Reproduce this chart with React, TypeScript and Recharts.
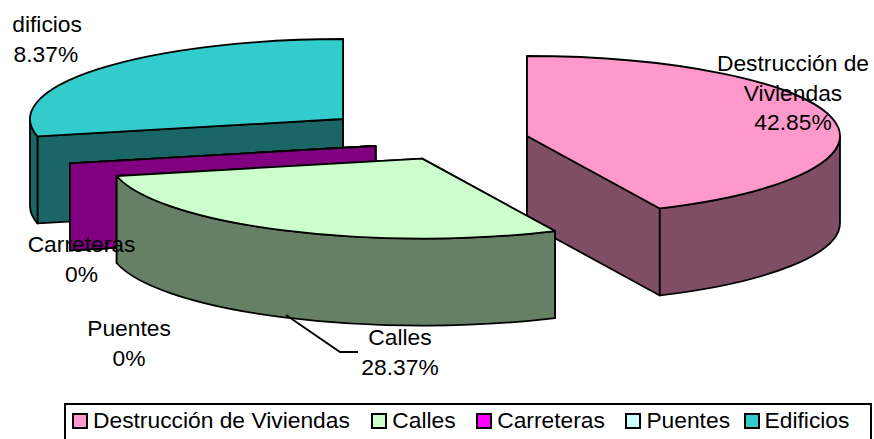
import { PieChart, Pie, Legend } from 'recharts';

const NAMES = ['Destrucción de Viviendas', 'Calles', 'Carreteras', 'Puentes', 'Edificios'];
const VALUES = [42.85, 28.37, 0, 0, 28.37];
const COLORS = ['#FF99CC', '#CCFFCC', '#FF00FF', '#CCFFFF', '#33CCCC'];
const SIDE_COLORS = ['#804D66', '#668066', '#800080', '#668080', '#1A6666'];

const data = NAMES.map((name, i) => ({ name, value: VALUES[i] }));

// Excel paints the slices back to front, not in legend order
const PAINT_ORDER = [4, 3, 2, 0, 1];

const FONT = '"Liberation Sans", Arial, sans-serif';
const FONT_SIZE = 22.8;

// the tilted pie
const CX = 454.8;
const CY = 140.4;
const RADIUS = 313;
const TILT = 80 / 313;
const DEPTH = 87;

// how far each slice is pulled out of the pie, px
const EXPLODE = [
  [72.2, -4.4],
  [-32.6, 18.2],
  [-79.3, 5.6],
  [-79.3, 5.6],
  [-111.8, -21.4],
];

// center x and first baseline of each data label
const LABELS = [
  { x: 793, y: 71, lines: ['Destrucción de', 'Viviendas'] },
  { x: 400, y: 345, lines: ['Calles'] },
  { x: 81.5, y: 252, lines: ['Carreteras'] },
  { x: 129, y: 336, lines: ['Puentes'] },
  { x: 39.5, y: 32, lines: ['Edificios'] },
];
const LINE_HEIGHT = 29.6;

// space after each legend entry, the reference is not even here
const LEGEND_GAPS = [21.5, 20.5, 20.5, 13.5, 0];

function Slice3D(props: any) {
  const { cx, cy, outerRadius, startAngle, endAngle, index } = props;
  const [dx, dy] = EXPLODE[index];
  const ax = cx + dx;
  const ay = cy + dy;
  const rx = outerRadius;
  const ry = outerRadius * TILT;
  const px = (deg: number) => ax + rx * Math.cos((deg * Math.PI) / 180);
  const py = (deg: number) => ay - ry * Math.sin((deg * Math.PI) / 180);
  const arc = (from: number, to: number, off = 0) => {
    const large = Math.abs(from - to) > 180 ? 1 : 0;
    const sweep = to < from ? 1 : 0;
    return `A${rx} ${ry} 0 ${large} ${sweep} ${px(to)} ${py(to) + off}`;
  };
  const wall = (deg: number) =>
    `M${ax} ${ay}L${px(deg)} ${py(deg)}L${px(deg)} ${py(deg) + DEPTH}L${ax} ${ay + DEPTH}Z`;

  // only the front half of the rim can be seen
  const rimFrom = Math.min(startAngle, 0);
  const rimTo = Math.max(endAngle, -180);
  const hasRim = rimFrom > rimTo;
  const common = { stroke: '#000', strokeWidth: 1.8, strokeLinejoin: 'round' as const };

  return (
    <g>
      <path d={wall(startAngle)} fill={SIDE_COLORS[index]} {...common} />
      <path d={wall(endAngle)} fill={SIDE_COLORS[index]} {...common} />
      {hasRim && (
        <path
          d={`M${px(rimFrom)} ${py(rimFrom)}${arc(rimFrom, rimTo)}L${px(rimTo)} ${py(rimTo) + DEPTH}${arc(rimTo, rimFrom, DEPTH)}Z`}
          fill={SIDE_COLORS[index]}
          {...common}
        />
      )}
      {startAngle !== endAngle && (
        <path
          d={`M${ax} ${ay}L${px(startAngle)} ${py(startAngle)}${arc(startAngle, endAngle)}Z`}
          fill={COLORS[index]}
          {...common}
        />
      )}
    </g>
  );
}

function renderLabel(props: any) {
  const { index, value } = props;
  const { x, y, lines } = LABELS[index];
  const rows = [...lines, `${value}%`];
  return (
    <g key={NAMES[index]} clipPath="url(#chart-area)">
      {NAMES[index] === 'Calles' && (
        <polyline points="286,315 340,352 358,352" fill="none" stroke="#000" strokeWidth={1.8} />
      )}
      <text x={x} y={y} textAnchor="middle" fontFamily={FONT} fontSize={FONT_SIZE} fill="#000">
        {rows.map((row, i) => (
          <tspan key={row} x={x} y={y + i * LINE_HEIGHT}>
            {row}
          </tspan>
        ))}
      </text>
    </g>
  );
}

function ChartLegend() {
  return (
    <div
      style={{
        display: 'flex',
        alignItems: 'flex-start',
        boxSizing: 'border-box',
        height: 60,
        padding: '2px 0 0 6px',
        border: '2px solid #000',
        background: '#fff',
        fontFamily: FONT,
        fontSize: FONT_SIZE,
        lineHeight: '26px',
        color: '#000',
        whiteSpace: 'nowrap',
      }}
    >
      {NAMES.map((name, i) => (
        <span key={name} style={{ display: 'flex', alignItems: 'center', height: 26, marginRight: LEGEND_GAPS[i] }}>
          <span
            style={{
              width: 16,
              height: 16,
              boxSizing: 'border-box',
              border: '2px solid #000',
              marginRight: 5,
              marginTop: 1,
              background: COLORS[i],
            }}
          />
          {name}
        </span>
      ))}
    </div>
  );
}

export default function App() {
  return (
    <div style={{ position: 'absolute', left: 0, top: 0, width: 874, height: 439, overflow: 'hidden', background: '#fff' }}>
      <PieChart width={874} height={439} margin={{ top: 0, right: 0, bottom: 0, left: 0 }}>
        <defs>
          <clipPath id="chart-area">
            <rect x={13} y={0} width={861} height={439} />
          </clipPath>
        </defs>
        {PAINT_ORDER.map((slice) => (
          <Pie
            key={NAMES[slice]}
            data={data}
            dataKey="value"
            nameKey="name"
            cx={CX}
            cy={CY}
            outerRadius={RADIUS}
            startAngle={90}
            endAngle={-270}
            legendType="none"
            isAnimationActive={false}
            shape={(props: any) => (props.index === slice ? <Slice3D {...props} /> : <g />)}
          />
        ))}
        <Pie
          data={data}
          dataKey="value"
          nameKey="name"
          cx={CX}
          cy={CY}
          outerRadius={RADIUS}
          startAngle={90}
          endAngle={-270}
          legendType="none"
          isAnimationActive={false}
          shape={() => <g />}
          label={renderLabel}
          labelLine={false}
        />
        <Legend
          content={<ChartLegend />}
          wrapperStyle={{ left: 64, top: 403, width: 808, height: 60, bottom: 'auto' }}
        />
      </PieChart>
    </div>
  );
}
